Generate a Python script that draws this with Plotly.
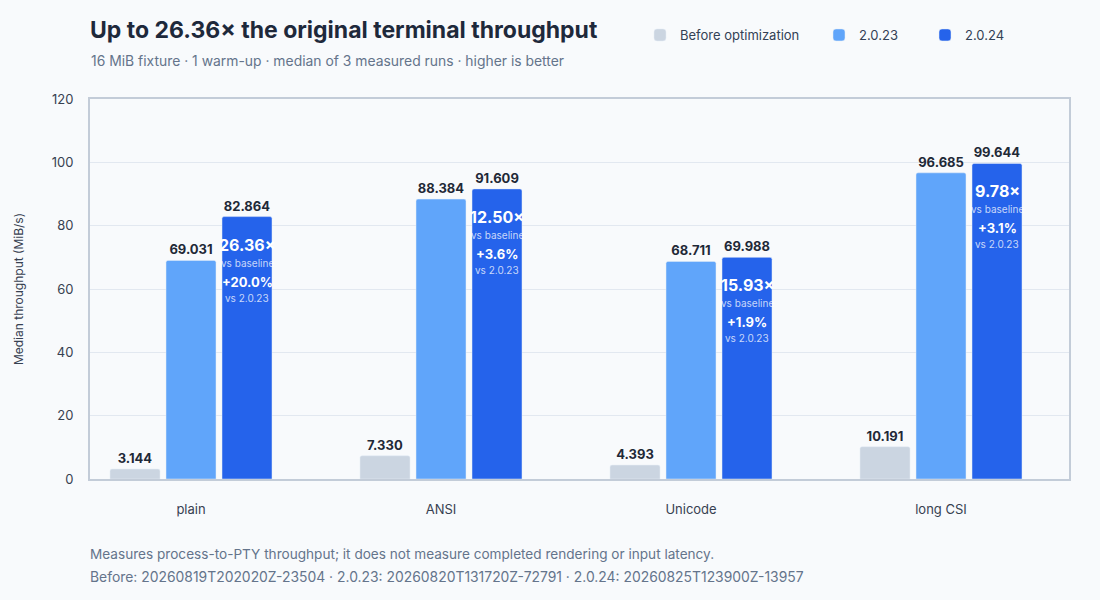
import plotly.graph_objects as go

# fixtures and median throughput in MiB/s
cases = ["plain", "ANSI", "Unicode", "long CSI"]
before = [3.144, 7.330, 4.393, 10.191]
v2023 = [69.031, 88.384, 68.711, 96.685]
v2024 = [82.864, 91.609, 69.988, 99.644]

series_names = ["Before optimization", "2.0.23", "2.0.24"]
colors = ["#cbd5e1", "#60a5fa", "#2563eb"]
legend_x = [640, 819, 925]

font = "Inter, Noto Sans, sans-serif"
bg = "#f8fafc"

fig = go.Figure()
legends = {}
for i, (name, vals, col) in enumerate(zip(series_names, [before, v2023, v2024], colors)):
    key = "legend" if i == 0 else f"legend{i + 1}"
    fig.add_trace(go.Bar(
        name=name, x=cases, y=vals, marker_color=col, legend=key,
        texttemplate="%{y:.3f}", textposition="outside",
        textfont=dict(family=font, size=13, color="#1f2937", weight=700),
        cliponaxis=False,
    ))
    legends[key] = dict(orientation="h", xref="container", yref="container",
                        x=legend_x[i] / 1100, xanchor="left",
                        y=1 - 35 / 600, yanchor="middle",
                        font=dict(family=font, size=13, color="#334155"),
                        bgcolor="rgba(0,0,0,0)")

# speedup labels inside the 2.0.24 bars
for c, b, o, n in zip(cases, before, v2023, v2024):
    ratio = n / b
    pct = (n / o - 1) * 100
    lines = [
        (f"<b>{ratio:.2f}×</b>", 16, "#ffffff", -28),
        ("vs baseline", 10, "rgba(255,255,255,0.75)", -46),
        (f"<b>+{pct:.1f}%</b>", 13, "#ffffff", -65),
        ("vs 2.0.23", 10, "rgba(255,255,255,0.75)", -81),
    ]
    for txt, sz, col, dy in lines:
        fig.add_annotation(x=c, y=n, xshift=56, yshift=dy, text=txt,
                           showarrow=False, yanchor="middle",
                           font=dict(family=font, size=sz, color=col))

notes = [
    ("Measures process-to-PTY throughput; it does not measure completed rendering or input latency.", -0.197, 13.6),
    ("Before: 20260819T202020Z-23504 · 2.0.23: 20260820T131720Z-72791 · 2.0.24: 20260825T123900Z-13957", -0.258, 13.9),
]
for txt, yy, sz in notes:
    fig.add_annotation(xref="paper", yref="paper", x=0, y=yy, xshift=-2, text=txt,
                       showarrow=False, xanchor="left", yanchor="middle",
                       font=dict(family=font, size=sz, color="#64748b"))

fig.add_annotation(xref="paper", yref="paper", x=0, y=1.1, xshift=-1, xanchor="left",
                   yanchor="middle", showarrow=False,
                   text="16 MiB fixture · 1 warm-up · median of 3 measured runs · higher is better",
                   font=dict(family=font, size=13.9, color="#64748b"))

fig.update_layout(
    width=1100, height=600,
    margin=dict(l=90, r=31, t=99, b=121),
    paper_bgcolor=bg, plot_bgcolor=bg,
    font=dict(family=font, size=13, color="#374151"),
    title=dict(text="<b>Up to 26.36× the original terminal throughput</b>",
               xref="container", yref="container", x=90 / 1100, xanchor="left",
               y=1 - 30 / 600, yanchor="middle",
               font=dict(family=font, size=23, color="#1e293b")),
    barmode="group", bargap=0.328, bargroupgap=0.107, barcornerradius=2,
    showlegend=True,
    **legends,
)
fig.update_xaxes(range=[-0.404, 3.512], showline=True, linecolor="#c3ccd8",
                 linewidth=2, mirror=True, ticks="", ticklabelstandoff=17,
                 tickfont=dict(size=13, color="#374151"))
fig.update_yaxes(range=[0, 120], dtick=20, showline=True, linecolor="#c3ccd8",
                 linewidth=2, mirror=True, gridcolor="#e2e8f0", gridwidth=1,
                 zeroline=False, ticks="", ticklabelstandoff=12,
                 tickfont=dict(size=13, color="#374151"),
                 title=dict(text="Median throughput (MiB/s)", standoff=25,
                            font=dict(size=12, color="#374151")))

fig.write_html("out.html", config={"displayModeBar": False}, post_script=(
    "document.body.style.margin='0';"
    "document.documentElement.style.background='#f8fafc';"
    "document.body.style.background='#f8fafc';"))
